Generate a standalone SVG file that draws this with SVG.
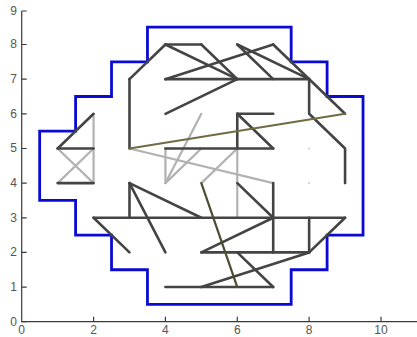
<svg xmlns="http://www.w3.org/2000/svg" width="417" height="337" viewBox="0 0 417 337">
<style>
.d line, .d path, .d polyline, .d polygon { vector-effect: non-scaling-stroke; fill: none; stroke-linecap: round; stroke-linejoin: round; }
.dark { stroke: #444444; stroke-width: 2.6; }
.light { stroke: #b2b2b2; stroke-width: 2.2; }
.olive { stroke: #6e6c42; stroke-width: 2; }
.olived { stroke: #4e4c30; stroke-width: 2.2; }
.d .blue { stroke: #0a0ad2; stroke-width: 2.8; stroke-linecap: butt; stroke-linejoin: miter; fill: none; }
.ax { stroke: #3a3a3a; stroke-width: 1.2; fill: none; }
.tl { font-family: "Liberation Sans", Arial, sans-serif; font-size: 12px; fill: #555555; }
</style>
<rect width="417" height="337" fill="#ffffff"/>
<g id="axes">
<path class="ax" d="M21.7,11 V321.7 H417"/>
<path class="ax" d="M21.7,321.7h5M21.7,287.1h5M21.7,252.4h5M21.7,217.8h5M21.7,183.1h5M21.7,148.5h5M21.7,113.8h5M21.7,79.2h5M21.7,44.5h5M21.7,11h5"/>
<path class="ax" d="M93.6,321.7v-5M165.4,321.7v-5M237.3,321.7v-5M309.1,321.7v-5M381,321.7v-5"/>
<g class="tl" text-anchor="end">
<text x="17" y="325.5">0</text>
<text x="17" y="291">1</text>
<text x="17" y="256.3">2</text>
<text x="17" y="221.7">3</text>
<text x="17" y="187">4</text>
<text x="17" y="152.4">5</text>
<text x="17" y="117.7">6</text>
<text x="17" y="83.1">7</text>
<text x="17" y="48.4">8</text>
<text x="17" y="15">9</text>
</g>
<g class="tl" text-anchor="middle">
<text x="21.7" y="334">0</text>
<text x="93.6" y="334">2</text>
<text x="165.4" y="334">4</text>
<text x="237.3" y="334">6</text>
<text x="309.1" y="334">8</text>
<text x="381" y="334">10</text>
</g>
</g>
<g class="d" transform="matrix(35.93 0 0 -34.65 21.7 321.7)">
<g id="boundary">
<polygon class="blue" points="3.5,8.5 7.5,8.5 7.5,7.5 8.5,7.5 8.5,6.5 9.5,6.5 9.5,2.5 8.5,2.5 8.5,1.5 7.5,1.5 7.5,0.5 3.5,0.5 3.5,1.5 2.5,1.5 2.5,2.5 1.5,2.5 1.5,3.5 0.5,3.5 0.5,5.5 1.5,5.5 1.5,6.5 2.5,6.5 2.5,7.5 3.5,7.5"/>
</g>
<g id="connectors">
<g class="light">
<line x1="2" y1="6" x2="2" y2="4"/>
<line x1="1" y1="5" x2="2" y2="4"/>
<line x1="1" y1="4" x2="2" y2="5"/>
<line x1="4" y1="5" x2="4" y2="4"/>
<line x1="4" y1="4" x2="5" y2="6"/>
<line x1="4" y1="4" x2="5" y2="5"/>
<line x1="3" y1="5" x2="7" y2="4"/>
<line x1="5" y1="4" x2="6" y2="5"/>
<line x1="6" y1="5" x2="6" y2="3"/>
</g>
<g class="dark">
<line x1="3" y1="7" x2="3" y2="5"/>
<line x1="3" y1="7" x2="4" y2="8"/>
<line x1="4" y1="8" x2="5" y2="8"/>
<line x1="5" y1="8" x2="6" y2="7"/>
<line x1="4" y1="8" x2="6" y2="7"/>
<line x1="4" y1="7" x2="8" y2="7"/>
<line x1="4" y1="7" x2="7" y2="8"/>
<line x1="6" y1="8" x2="7" y2="7"/>
<line x1="6" y1="8" x2="8" y2="7"/>
<line x1="7" y1="8" x2="9" y2="6"/>
<line x1="4" y1="6" x2="6" y2="7"/>
<polyline points="8,7 8,6 9,5 9,4"/>
<line x1="6" y1="6" x2="7" y2="6"/>
<line x1="6" y1="6" x2="6" y2="5"/>
<line x1="6" y1="6" x2="7" y2="5"/>
<line x1="4" y1="5" x2="7" y2="5"/>
<line x1="1" y1="5" x2="2" y2="6"/>
<line x1="1" y1="5" x2="2" y2="5"/>
<line x1="1" y1="4" x2="2" y2="4"/>
<line x1="3" y1="4" x2="3" y2="3"/>
<line x1="3" y1="4" x2="4" y2="2"/>
<line x1="3" y1="4" x2="5" y2="3"/>
<line x1="2" y1="3" x2="9" y2="3"/>
<line x1="2" y1="3" x2="3" y2="2"/>
<line x1="6" y1="4" x2="7" y2="3"/>
<line x1="7" y1="4" x2="7" y2="2"/>
<line x1="5" y1="2" x2="8" y2="2"/>
<line x1="5" y1="2" x2="7" y2="3"/>
<line x1="8" y1="3" x2="8" y2="2"/>
<line x1="9" y1="3" x2="8" y2="2"/>
<line x1="5" y1="1" x2="8" y2="2"/>
<line x1="4" y1="1" x2="7" y2="1"/>
<line x1="6" y1="2" x2="7" y2="1"/>
</g>
<line class="olive" x1="3" y1="5" x2="9" y2="6"/>
<line class="olived" x1="5" y1="4" x2="6" y2="1"/>
</g>
</g>
<g id="points" fill="#c8c8c8">
<circle cx="309.1" cy="148.5" r="1"/>
<circle cx="309.1" cy="183.1" r="1"/>
</g>
</svg>
